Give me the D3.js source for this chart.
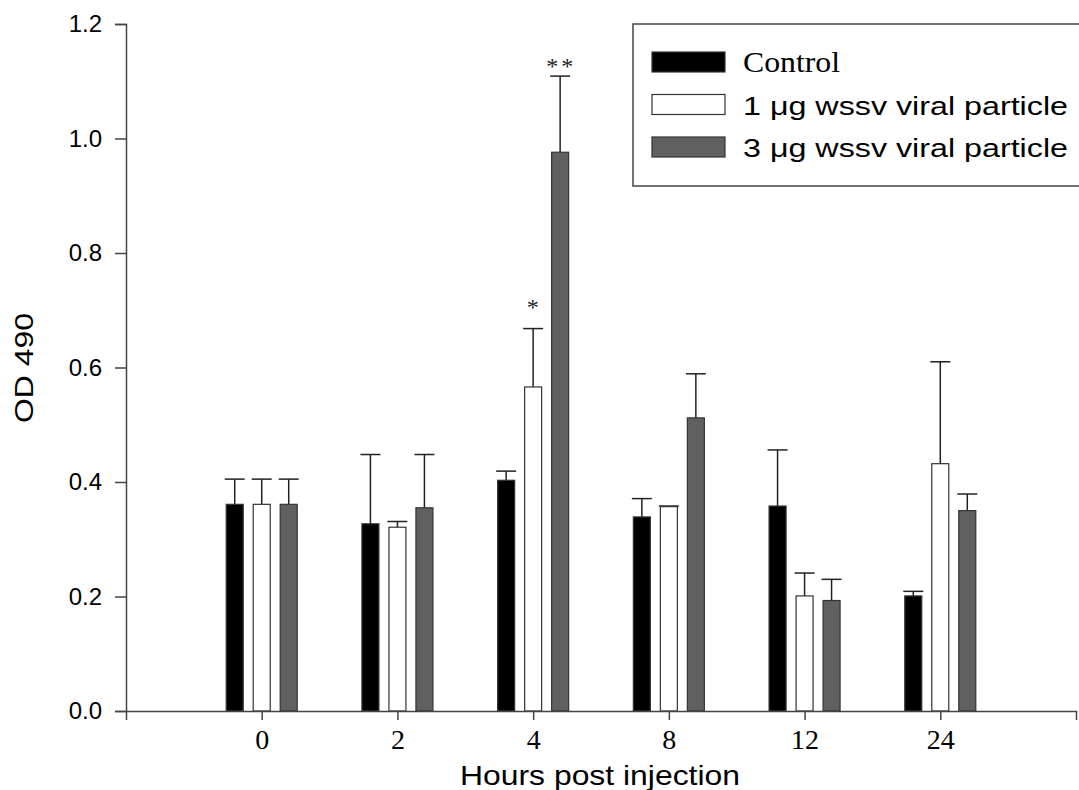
<!DOCTYPE html>
<html>
<head>
<meta charset="utf-8">
<script src="https://cdn.jsdelivr.net/npm/d3@7"></script>
<style>
  body { margin: 0; background: #fff; }
</style>
</head>
<body>
<div id="chart"></div>
<script>
// data
const hours = ["0", "2", "4", "8", "12", "24"];
const seriesNames = ["Control", "1 \u03bcg wssv viral particle", "3 \u03bcg wssv viral particle"];
const controlMean = [0.361, 0.327, 0.403, 0.339, 0.358, 0.201];
const controlErr  = [0.044, 0.121, 0.016, 0.032, 0.098, 0.008];
const low1Mean    = [0.361, 0.321, 0.566, 0.357, 0.201, 0.432];
const low1Err     = [0.044, 0.010, 0.102, 0.001, 0.040, 0.178];
const high3Mean   = [0.361, 0.355, 0.976, 0.512, 0.193, 0.350];
const high3Err    = [0.044, 0.093, 0.133, 0.077, 0.037, 0.029];
const stars       = [["", "", ""], ["", "", ""], ["", "*", "**"], ["", "", ""], ["", "", ""], ["", "", ""]];
const yTicks = [0, 0.2, 0.4, 0.6, 0.8, 1.0, 1.2];

const fills = ["#000000", "#ffffff", "#606060"];
const means = [controlMean, low1Mean, high3Mean];
const errs = [controlErr, low1Err, high3Err];

const W = 1079, H = 790;
const svg = d3.select("#chart").append("svg")
  .attr("width", W).attr("height", H);

const x = d3.scaleLinear().domain([-1, 6]).range([126, 1076]);
const y = d3.scaleLinear().domain([0, 1.2]).range([711, 24]);
const barW = 17, barGap = 27;
const axisCol = "#444";
const sans = "Liberation Sans, Arial, sans-serif";
const serif = "Liberation Serif, Times New Roman, serif";
const starLift = { "*": 14, "**": 2 }; // gap between cap and star baseline

// bars + error bars
hours.forEach((h, i) => {
  means.forEach((m, s) => {
    const cx = x(i) + (s - 1) * barGap;
    const top = y(m[i]);
    const capY = y(m[i] + errs[s][i]);
    svg.append("line")
      .attr("x1", cx).attr("x2", cx).attr("y1", top).attr("y2", capY)
      .attr("stroke", "#222").attr("stroke-width", 1.5);
    svg.append("line")
      .attr("x1", cx - 10).attr("x2", cx + 10).attr("y1", capY).attr("y2", capY)
      .attr("stroke", "#222").attr("stroke-width", 1.5);
    svg.append("rect")
      .attr("x", cx - barW / 2).attr("y", top)
      .attr("width", barW).attr("height", y(0) - top)
      .attr("fill", fills[s]).attr("stroke", "#333").attr("stroke-width", 1.2);
    const st = stars[i][s];
    if (st) {
      svg.append("text")
        .attr("x", cx + 1).attr("y", capY - starLift[st])
        .attr("text-anchor", "middle")
        .attr("font-family", serif)
        .attr("font-size", 24).attr("fill", "#222")
        .attr("letter-spacing", 3)
        .text(st);
    }
  });
});

// y axis
const yAxis = svg.append("g").attr("transform", "translate(126,0)")
  .call(d3.axisLeft(y).tickValues(yTicks).tickFormat(d3.format(".1f")).tickSize(11).tickPadding(13));
yAxis.select(".domain").attr("stroke", axisCol).attr("stroke-width", 1.5);
yAxis.selectAll(".tick line").attr("stroke", axisCol).attr("stroke-width", 1.5);
yAxis.selectAll("text").attr("font-family", sans)
  .attr("font-size", 24).attr("fill", "#000");

// x axis
const xAxis = svg.append("g").attr("transform", "translate(0,711)")
  .call(d3.axisBottom(x).tickValues(d3.range(hours.length)).tickFormat(i => hours[i]).tickSize(9).tickSizeOuter(9).tickPadding(9));
xAxis.select(".domain").attr("stroke", axisCol).attr("stroke-width", 1.5);
xAxis.selectAll(".tick line").attr("stroke", axisCol).attr("stroke-width", 1.5);
xAxis.selectAll("text").attr("font-family", serif)
  .attr("font-size", 28).attr("fill", "#000");

// axis titles
svg.append("text")
  .attr("transform", "translate(33,368) rotate(-90)")
  .attr("text-anchor", "middle")
  .attr("font-family", sans)
  .attr("font-size", 25).attr("fill", "#000")
  .attr("textLength", 110).attr("lengthAdjust", "spacingAndGlyphs")
  .text("OD 490");
svg.append("text")
  .attr("x", 600).attr("y", 785)
  .attr("text-anchor", "middle")
  .attr("font-family", sans)
  .attr("font-size", 28).attr("fill", "#000")
  .attr("textLength", 280).attr("lengthAdjust", "spacingAndGlyphs")
  .text("Hours post injection");

// legend
const lg = svg.append("g");
lg.append("rect").attr("x", 633).attr("y", 24).attr("width", 450).attr("height", 162)
  .attr("fill", "#fff").attr("stroke", "#444").attr("stroke-width", 1.5);
const legLen = [97, 325, 325];
seriesNames.forEach((name, s) => {
  const ly = 52 + s * 42.5;
  lg.append("rect").attr("x", 652).attr("y", ly).attr("width", 73).attr("height", 20)
    .attr("fill", fills[s]).attr("stroke", "#333").attr("stroke-width", 1.2);
  lg.append("text").attr("x", 743).attr("y", ly + 20)
    .attr("font-family", s === 0 ? serif : sans)
    .attr("font-size", s === 0 ? 30 : 26).attr("fill", "#000")
    .attr("textLength", legLen[s]).attr("lengthAdjust", "spacingAndGlyphs")
    .text(name);
});
</script>
</body>
</html>
